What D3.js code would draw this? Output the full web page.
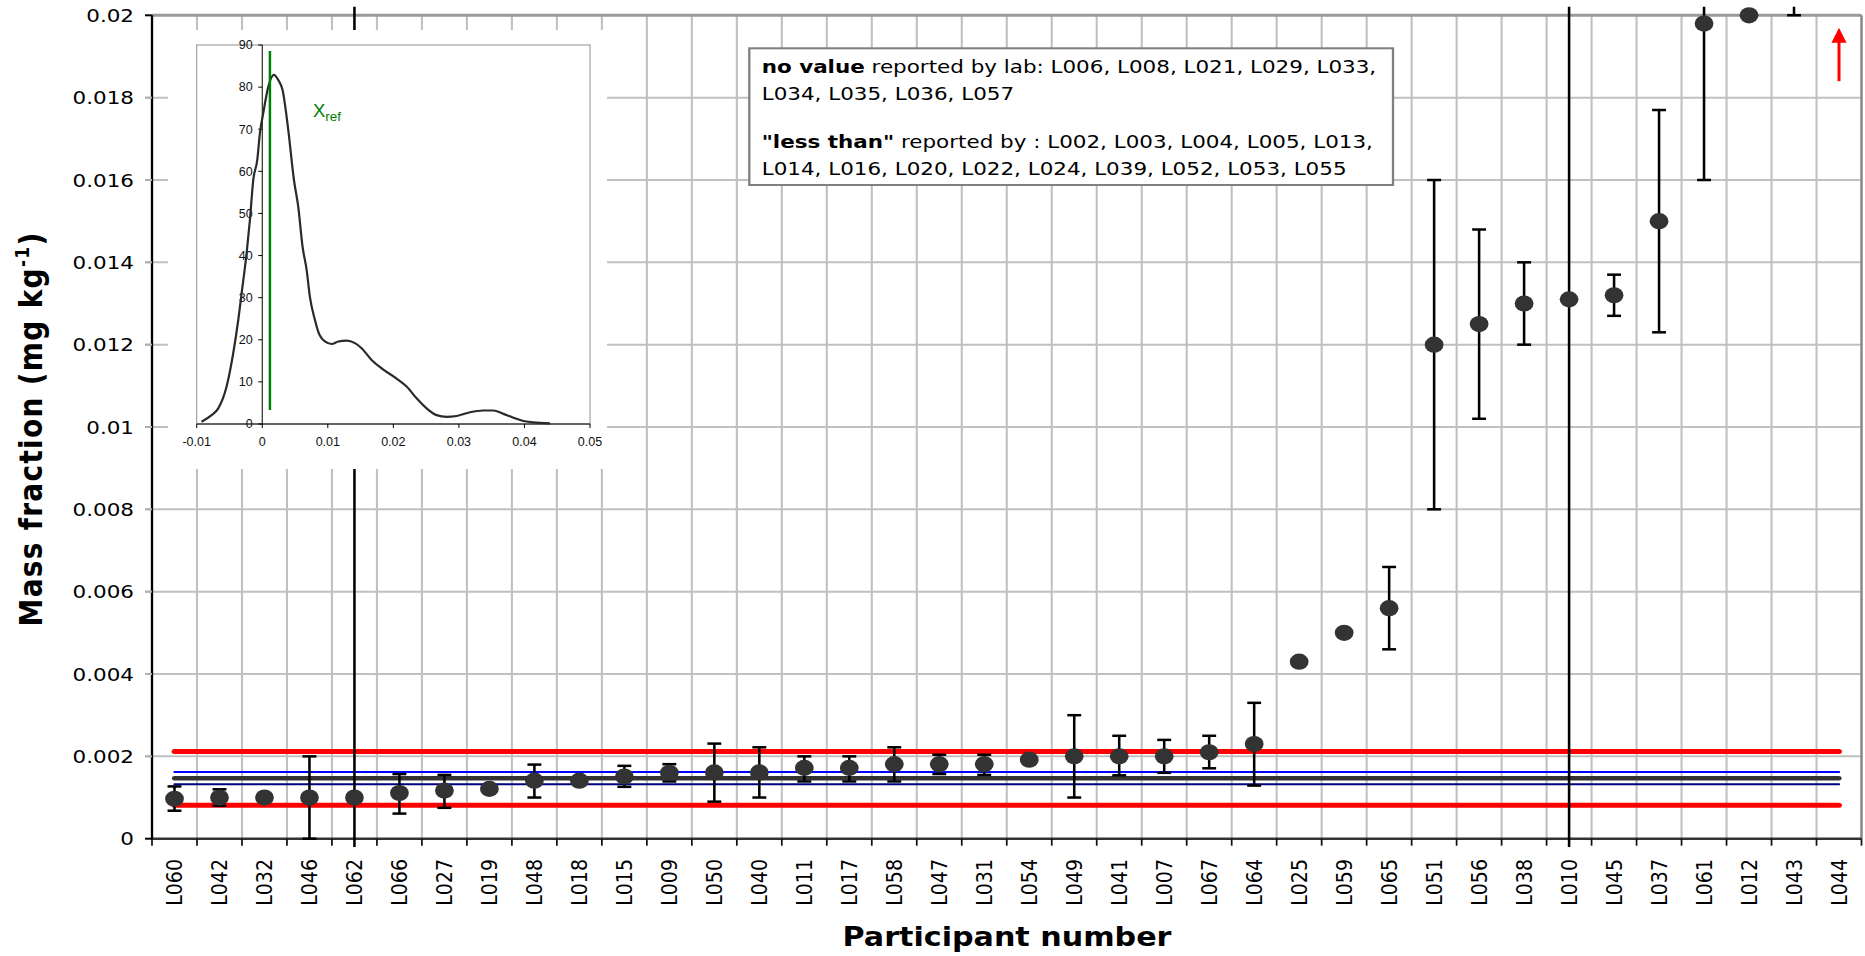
<!DOCTYPE html>
<html>
<head>
<meta charset="utf-8">
<script src="https://cdn.jsdelivr.net/npm/d3@7/dist/d3.min.js"></script>
<style>
  html, body { margin: 0; padding: 0; background: #fff; }
  svg { display: block; }
</style>
</head>
<body>
<svg id="chart" width="1865" height="956"></svg>
<script>
// ---------------- DATA ----------------
const categories = ['L060','L042','L032','L046','L062','L066','L027','L019','L048','L018','L015','L009','L050','L040','L011','L017','L058','L047','L031','L054','L049','L041','L007','L067','L064','L025','L059','L065','L051','L056','L038','L010','L045','L037','L061','L012','L043','L044'];
const values = [0.00097,0.00100,0.00100,0.00100,0.00100,0.00111,0.00117,0.00121,0.00141,0.00141,0.00151,0.00160,0.00161,0.00161,0.00172,0.00172,0.00181,0.00181,0.00181,0.00192,0.00200,0.00200,0.00200,0.00210,0.00230,0.00430,0.00500,0.00560,0.01200,0.01250,0.01300,0.01310,0.01320,0.01500,0.01980,0.02000,0.02250,null];
const errLow  = [0.00068,0.00080,null,0.00000,-0.03000,0.00061,0.00075,null,0.00100,null,0.00126,0.00139,0.00090,0.00100,0.00139,0.00139,0.00139,0.00157,0.00155,null,0.00100,0.00154,0.00160,0.00171,0.00129,null,null,0.00460,0.00800,0.01020,0.01200,-0.02000,0.01270,0.01230,0.01600,null,0.02000,null];
const errHigh = [0.00127,0.00120,null,0.00200,0.03500,0.00157,0.00155,null,0.00180,null,0.00177,0.00181,0.00231,0.00222,0.00200,0.00200,0.00222,0.00204,0.00204,null,0.00300,0.00250,0.00240,0.00250,0.00330,null,null,0.00660,0.01600,0.01480,0.01400,0.04500,0.01370,0.01770,0.02400,null,0.02500,null];
const yTicks = [0,0.002,0.004,0.006,0.008,0.010,0.012,0.014,0.016,0.018,0.020];
const yTickLabels = ['0','0.002','0.004','0.006','0.008','0.01','0.012','0.014','0.016','0.018','0.02'];
const limitLines = [0.00212, 0.00081];       // red
const uncertaintyLines = [0.00162, 0.00132]; // blue / navy
const refValue = 0.00147;                    // dark grey
const arrowCategory = 'L044';
const arrowFrom = 0.0184, arrowTo = 0.0197;
const noteLines = [
  [['no value', true], [' reported by lab: L006, L008, L021, L029, L033,', false]],
  [['L034, L035, L036, L057', false]],
  [['"less than"', true], [' reported by : L002, L003, L004, L005, L013,', false]],
  [['L014, L016, L020, L022, L024, L039, L052, L053, L055', false]]
];
// inset kernel density
const kdeX = [-0.00926,-0.00773,-0.00671,-0.00544,-0.00443,-0.00366,-0.00315,-0.00239,-0.00188,-0.00137,-0.00076,-0.00036,0.00015,0.00092,0.00178,0.00244,0.0031,0.00397,0.00483,0.00549,0.00615,0.00677,0.00727,0.00804,0.00855,0.00956,0.01058,0.0116,0.01287,0.01414,0.01516,0.01668,0.01821,0.0205,0.02202,0.02355,0.02508,0.0266,0.02813,0.02965,0.03169,0.03372,0.03525,0.03678,0.0383,0.03983,0.04135,0.0439];
const kdeY = [0.55,2.1,3.7,8.9,16.8,24.7,31,40.5,48.5,58,62.7,69,73.8,80.1,82.9,81.7,79.3,69.8,58,51.6,42.1,36.6,30.2,24.7,21.9,19.6,19,19.6,19.8,19.2,18,15.2,13.2,10.8,8.9,6.1,3.7,2.1,1.7,1.9,2.8,3.2,3.2,2.4,1.5,0.7,0.4,0.15];
const insetXTicks = [-0.01,0,0.01,0.02,0.03,0.04,0.05];
const insetXLabels = ['-0.01','0','0.01','0.02','0.03','0.04','0.05'];
const insetYTicks = [0,10,20,30,40,50,60,70,80,90];
const xrefValue = 0.00117, xrefLineFrom = 3.3, xrefLineTo = 88.6;

// ---------------- LAYOUT ----------------
const SX = 1.16; // horizontal stretch of the original picture
const FONT = "'DejaVu Sans', Verdana, sans-serif";
const svg = d3.select('#chart');
const g = svg.append('g').attr('transform', `scale(${SX},1)`);

const xLeft = 152 / SX, xRight = 1861.5 / SX;
const x = d3.scaleBand().domain(categories).range([xLeft, xRight]).padding(0);
const y = d3.scaleLinear().domain([0, 0.02]).range([838.7, 15.3]);
const bw = x.bandwidth();
const cx = c => x(c) + bw / 2;

// grid - horizontal
g.selectAll('.hgrid').data(yTicks.filter(v => v > 0 && v < 0.02)).enter().append('line')
  .attr('x1', 145 / SX).attr('x2', xRight).attr('y1', d => y(d)).attr('y2', d => y(d))
  .attr('stroke', '#c0c0c0').attr('stroke-width', 2);
// grid - vertical at band boundaries
const bounds = d3.range(1, categories.length).map(i => xLeft + i * bw);
g.selectAll('.vgrid').data(bounds).enter().append('line')
  .attr('x1', d => d).attr('x2', d => d).attr('y1', y(0.02)).attr('y2', y(0))
  .attr('stroke', '#c0c0c0').attr('stroke-width', 1.8);
// plot borders top/right
g.append('line').attr('x1', xLeft).attr('x2', xRight).attr('y1', y(0.02)).attr('y2', y(0.02))
  .attr('stroke', '#9a9a9a').attr('stroke-width', 3);
g.append('line').attr('x1', xRight).attr('x2', xRight).attr('y1', y(0.02)).attr('y2', y(0))
  .attr('stroke', '#8a8a8a').attr('stroke-width', 2.2);

// x axis
g.append('line').attr('x1', xLeft).attr('x2', xRight).attr('y1', y(0)).attr('y2', y(0))
  .attr('stroke', '#333').attr('stroke-width', 2.5);
g.selectAll('.xtick').data(d3.range(0, categories.length + 1).map(i => xLeft + i * bw)).enter().append('line')
  .attr('x1', d => d).attr('x2', d => d).attr('y1', y(0)).attr('y2', y(0) + 7)
  .attr('stroke', '#111').attr('stroke-width', 1.5);
g.selectAll('.xlab').data(categories).enter().append('text')
  .attr('transform', d => `translate(${cx(d)},859) rotate(-90)`)
  .attr('text-anchor', 'end').attr('dy', '0.36em')
  .style('font-family', FONT).style('font-size', '19px').attr('fill', '#000')
  .text(d => d);

// y axis
g.append('line').attr('x1', xLeft).attr('x2', xLeft).attr('y1', y(0.02)).attr('y2', y(0))
  .attr('stroke', '#000').attr('stroke-width', 2);
g.selectAll('.ytick').data(yTicks).enter().append('line')
  .attr('x1', 145 / SX).attr('x2', xLeft).attr('y1', d => y(d)).attr('y2', d => y(d))
  .attr('stroke', (d, i) => (i === 0 || i === yTicks.length - 1) ? '#000' : '#b0b0b0')
  .attr('stroke-width', 2);
g.selectAll('.ylab').data(yTicks).enter().append('text')
  .attr('x', 134 / SX).attr('y', d => y(d)).attr('dy', '0.36em')
  .attr('text-anchor', 'end')
  .style('font-family', FONT).style('font-size', '18.5px').attr('fill', '#000')
  .text((d, i) => yTickLabels[i]);

// reference lines
const lineX1 = cx(categories[0]), lineX2 = cx(categories[categories.length - 1]);
function hline(v, color, w) {
  g.append('line').attr('x1', lineX1).attr('x2', lineX2).attr('y1', y(v)).attr('y2', y(v))
    .attr('stroke', color).attr('stroke-width', w).attr('stroke-linecap', 'round');
}
limitLines.forEach(v => hline(v, '#ff0000', 5));
hline(uncertaintyLines[0], '#0000ff', 2);
hline(uncertaintyLines[1], '#000080', 2);
hline(refValue, '#333333', 4.5);

// error bars (clipped like the original plot area)
const defs = svg.append('defs');
defs.append('clipPath').attr('id', 'errclip').append('rect')
  .attr('x', 0).attr('y', 6.7).attr('width', 2000).attr('height', 847 - 6.7);
const eg = g.append('g').attr('clip-path', 'url(#errclip)');
const rows = categories.map((c, i) => ({ c, v: values[i], lo: errLow[i], hi: errHigh[i] }));
const withErr = rows.filter(r => r.lo !== null && r.hi !== null);
eg.selectAll('.ebar').data(withErr).enter().append('line')
  .attr('x1', d => cx(d.c)).attr('x2', d => cx(d.c)).attr('y1', d => y(d.lo)).attr('y2', d => y(d.hi))
  .attr('stroke', '#000').attr('stroke-width', 2.2);
const capW = 6;
['lo', 'hi'].forEach(k => {
  eg.selectAll('.cap' + k).data(withErr).enter().append('line')
    .attr('x1', d => cx(d.c) - capW).attr('x2', d => cx(d.c) + capW)
    .attr('y1', d => y(d[k])).attr('y2', d => y(d[k]))
    .attr('stroke', '#000').attr('stroke-width', 2.5);
});

// markers
g.selectAll('.pt').data(rows.filter(r => r.v !== null)).enter().append('circle')
  .attr('cx', d => cx(d.c)).attr('cy', d => y(d.v)).attr('r', 8.1)
  .attr('fill', '#333333');

// off-scale arrow
const ax = cx(arrowCategory);
g.append('line').attr('x1', ax).attr('x2', ax).attr('y1', y(arrowFrom)).attr('y2', y(arrowTo) + 12)
  .attr('stroke', '#ff0000').attr('stroke-width', 3 / SX);
g.append('path')
  .attr('d', `M${ax},${y(arrowTo)} L${ax - 6.5},${y(arrowTo) + 15} L${ax + 6.5},${y(arrowTo) + 15} Z`)
  .attr('fill', '#ff0000');

// note box
g.append('rect').attr('x', 749.3 / SX).attr('y', 48.3).attr('width', (1393 - 749.3) / SX).attr('height', 185 - 48.3)
  .attr('fill', '#fff').attr('stroke', '#808080').attr('stroke-width', 2);
const noteBaselines = [73, 100, 148, 175];
noteLines.forEach((parts, i) => {
  const t = g.append('text').attr('x', 761.7 / SX).attr('y', noteBaselines[i])
    .style('font-family', FONT).style('font-size', '18.5px').attr('fill', '#000')
    .attr('xml:space', 'preserve');
  parts.forEach(([txt, bold]) => {
    t.append('tspan').style('font-weight', bold ? 'bold' : 'normal').text(txt);
  });
});

// axis titles
g.append('text').attr('x', 1007 / SX).attr('y', 946).attr('text-anchor', 'middle')
  .style('font-family', FONT).style('font-size', '26px').style('font-weight', 'bold')
  .text('Participant number');
const yt = g.append('text').attr('transform', `translate(${41.7 / SX},429) rotate(-90)`)
  .attr('text-anchor', 'middle')
  .style('font-family', FONT).style('font-size', '28px').style('font-weight', 'bold');
yt.append('tspan').text('Mass fraction (mg kg');
yt.append('tspan').attr('dy', -11).style('font-size', '17px').text('-1');
yt.append('tspan').attr('dy', 11).text(')');
// stretch letter spacing to the original length (395 px)
const ylen = yt.node().getComputedTextLength();
const nChars = 'Mass fraction (mg kg-1)'.length;
yt.style('letter-spacing', ((395 - ylen) / nChars) + 'px');

// ---------------- INSET ----------------
const ig = svg.append('g');
ig.append('rect').attr('x', 168).attr('y', 30).attr('width', 607 - 168).attr('height', 469 - 30).attr('fill', '#fff');
const ix = d3.scaleLinear().domain([-0.01, 0.05]).range([196.7, 590]);
const iy = d3.scaleLinear().domain([0, 90]).range([424, 45]);
ig.append('rect').attr('x', ix(-0.01)).attr('y', iy(90)).attr('width', ix(0.05) - ix(-0.01)).attr('height', iy(0) - iy(90))
  .attr('fill', 'none').attr('stroke', '#909090').attr('stroke-width', 1);
ig.append('line').attr('x1', ix(0)).attr('x2', ix(0)).attr('y1', iy(0)).attr('y2', iy(90))
  .attr('stroke', '#000').attr('stroke-width', 1);
ig.append('line').attr('x1', ix(-0.01)).attr('x2', ix(0.05)).attr('y1', iy(0)).attr('y2', iy(0))
  .attr('stroke', '#000').attr('stroke-width', 1);
ig.selectAll('.iyt').data(insetYTicks).enter().append('line')
  .attr('x1', ix(0) - 4).attr('x2', ix(0)).attr('y1', d => iy(d)).attr('y2', d => iy(d))
  .attr('stroke', '#000').attr('stroke-width', 1);
ig.selectAll('.iyl').data(insetYTicks).enter().append('text')
  .attr('x', ix(0) - 9.5).attr('y', d => iy(d)).attr('dy', '0.35em').attr('text-anchor', 'end')
  .style('font-family', "'Liberation Sans', Arial, sans-serif").style('font-size', '12.5px').attr('fill', '#111')
  .text(d => d);
ig.selectAll('.ixt').data(insetXTicks).enter().append('line')
  .attr('x1', d => ix(d)).attr('x2', d => ix(d)).attr('y1', iy(0)).attr('y2', iy(0) + 4)
  .attr('stroke', '#000').attr('stroke-width', 1);
ig.selectAll('.ixl').data(insetXTicks).enter().append('text')
  .attr('x', d => ix(d)).attr('y', 446).attr('text-anchor', 'middle')
  .style('font-family', "'Liberation Sans', Arial, sans-serif").style('font-size', '12.5px').attr('fill', '#111')
  .text((d, i) => insetXLabels[i]);
const kde = kdeX.map((v, i) => [v, kdeY[i]]);
ig.append('path').datum(kde)
  .attr('d', d3.line().x(d => ix(d[0])).y(d => iy(d[1])).curve(d3.curveMonotoneX))
  .attr('fill', 'none').attr('stroke', '#2a2a2a').attr('stroke-width', 2.2);
ig.append('line').attr('x1', ix(xrefValue)).attr('x2', ix(xrefValue)).attr('y1', iy(xrefLineFrom)).attr('y2', iy(xrefLineTo))
  .attr('stroke', '#008000').attr('stroke-width', 2.5);
const xr = ig.append('text').attr('x', 313).attr('y', 117)
  .style('font-family', "'Liberation Sans', Arial, sans-serif").style('font-size', '18.5px').attr('fill', '#008000');
xr.append('tspan').text('X');
xr.append('tspan').attr('dy', 4).style('font-size', '13.5px').text('ref');
</script>
</body>
</html>
